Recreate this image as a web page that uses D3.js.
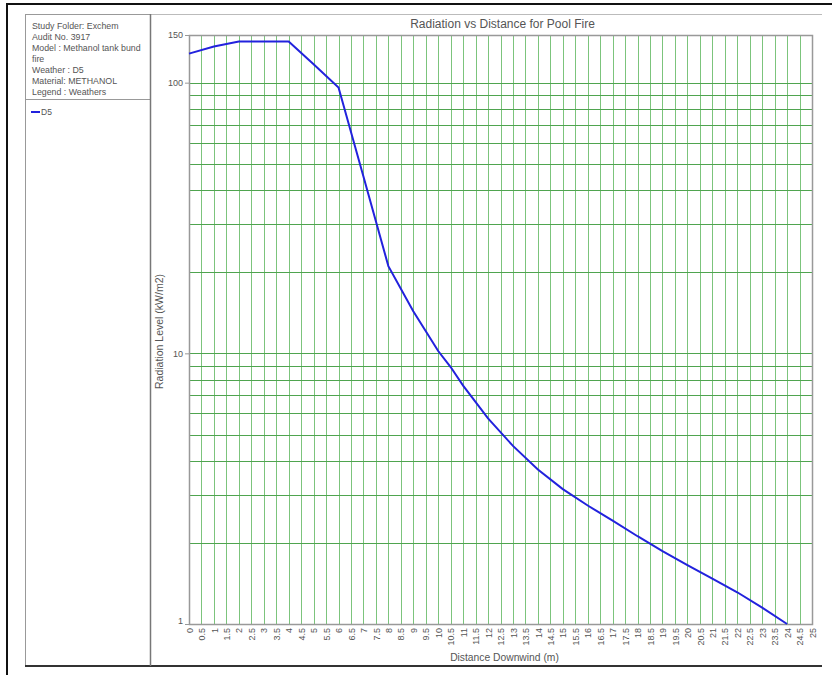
<!DOCTYPE html>
<html><head><meta charset="utf-8">
<script src="https://cdn.jsdelivr.net/npm/d3@7"></script>
<style>body{margin:0;background:#fff}svg{display:block;font-family:"Liberation Sans",Arial,sans-serif}</style>
</head><body><svg id="c" width="832" height="675"></svg>
<script>
const infoLines = ["Study Folder: Exchem", "Audit No. 3917", "Model : Methanol tank bund", "fire", "Weather : D5", "Material: METHANOL", "Legend : Weathers"];
const seriesName = "D5";
const distance = [0, 1, 2, 3, 4, 5, 6, 7, 8, 9, 10, 10.5, 11, 12, 13, 14, 15, 16, 17, 18, 19, 20, 21, 22, 23, 24];
const radiation = [128, 136, 142, 142, 142, 117, 96, 45, 21, 14.3, 10.2, 8.9, 7.6, 5.75, 4.55, 3.72, 3.15, 2.74, 2.41, 2.11, 1.86, 1.65, 1.47, 1.31, 1.15, 1.0];
const xTicks = d3.range(0, 25.01, 0.5);
const yGrid = [1,2,3,4,5,6,7,8,9,10,20,30,40,50,60,70,80,90,100,150];
const yLabels = [1, 10, 100, 150];
const title = "Radiation vs Distance for Pool Fire";
const xTitle = "Distance Downwind (m)";
const yTitle = "Radiation Level (kW/m2)";

const svg = d3.select("#c");
const txt = "#555";
// outer frame
svg.append("line").attr("x1",6).attr("x2",832).attr("y1",4).attr("y2",4).attr("stroke","#111").attr("stroke-width",2);
svg.append("line").attr("x1",7).attr("x2",7).attr("y1",3).attr("y2",675).attr("stroke","#111").attr("stroke-width",2);
// panels
svg.append("rect").attr("x",25.5).attr("y",14.5).attr("width",125).attr("height",651).attr("fill","none").attr("stroke","#999");
svg.append("line").attr("x1",25).attr("x2",150).attr("y1",99.5).attr("y2",99.5).attr("stroke","#999");
svg.append("line").attr("x1",150).attr("x2",822).attr("y1",14.5).attr("y2",14.5).attr("stroke","#bbb");
svg.append("line").attr("x1",25).attr("x2",822).attr("y1",666).attr("y2",666).attr("stroke","#333").attr("stroke-width",2);
svg.append("line").attr("x1",150.5).attr("x2",150.5).attr("y1",14).attr("y2",666).attr("stroke","#777").attr("stroke-width",1.5);

svg.append("g").selectAll("text").data(infoLines).join("text")
  .attr("x",32).attr("y",(d,i)=>28.5+i*11).attr("font-size",8.8).attr("fill",txt).text(d=>d);
svg.append("line").attr("x1",31).attr("x2",40).attr("y1",112).attr("y2",112).attr("stroke","#2222dd").attr("stroke-width",2);
svg.append("text").attr("x",41).attr("y",115).attr("font-size",8.5).attr("fill",txt).text(seriesName);

const L=189, R=812, T=35, B=624;
const x = d3.scaleLinear().domain([0,25]).range([L,R]);
const y = d3.scaleLog().domain([1,150]).range([B,T]);

const g = svg.append("g");
g.selectAll("line.v").data(xTicks.filter(d=>d>0&&d<25)).join("line")
  .attr("x1",d=>Math.round(x(d))+0.5).attr("x2",d=>Math.round(x(d))+0.5).attr("y1",T).attr("y2",B)
  .attr("stroke","#7cc47c").attr("stroke-width",1);
g.selectAll("line.h").data(yGrid.filter(d=>d>1&&d<150)).join("line")
  .attr("x1",L).attr("x2",R).attr("y1",d=>Math.round(y(d))+0.5).attr("y2",d=>Math.round(y(d))+0.5)
  .attr("stroke","#4fa44f").attr("stroke-width",1);
g.append("rect").attr("x",L+0.5).attr("y",T+0.5).attr("width",R-L).attr("height",B-T).attr("fill","none").attr("stroke","#999").attr("stroke-width",1.5);

// y axis labels
const ya = svg.append("g").attr("transform",`translate(${L},0)`)
  .call(d3.axisLeft(y).tickValues(yLabels).tickFormat(d3.format("d")).tickSize(4).tickPadding(2));
ya.select(".domain").remove();
ya.selectAll("line").attr("stroke","#999");
ya.selectAll("text").attr("font-size",9).attr("fill",txt).attr("font-family","Liberation Sans, Arial");
ya.selectAll(".tick").filter(d=>d===1).select("text").attr("dy","-0.1em");

// x axis labels
const xa = svg.append("g").attr("transform",`translate(0,${B})`)
  .call(d3.axisBottom(x).tickValues(xTicks).tickFormat(d=>String(d)).tickSize(0));
xa.select(".domain").remove();
xa.selectAll("text").attr("font-size",9).attr("fill",txt).attr("font-family","Liberation Sans, Arial")
  .attr("transform","rotate(-90)").attr("text-anchor","end").attr("x",-4).attr("y",0).attr("dy","0.35em");

// line
svg.append("path").datum(distance.map((d,i)=>[d,radiation[i]]))
  .attr("d",d3.line().x(d=>x(d[0])).y(d=>y(d[1])))
  .attr("fill","none").attr("stroke","#2222dd").attr("stroke-width",2);

svg.append("text").attr("x",(L+R)/2+2).attr("y",28).attr("text-anchor","middle").attr("font-size",12).attr("fill",txt).text(title);
svg.append("text").attr("x",(L+R)/2+4).attr("y",661).attr("text-anchor","middle").attr("font-size",10.3).attr("fill",txt).text(xTitle);
svg.append("text").attr("transform",`translate(163,${(T+B)/2+2}) rotate(-90)`).attr("text-anchor","middle").attr("font-size",10.5).attr("fill",txt).text(yTitle);
</script></body></html>
